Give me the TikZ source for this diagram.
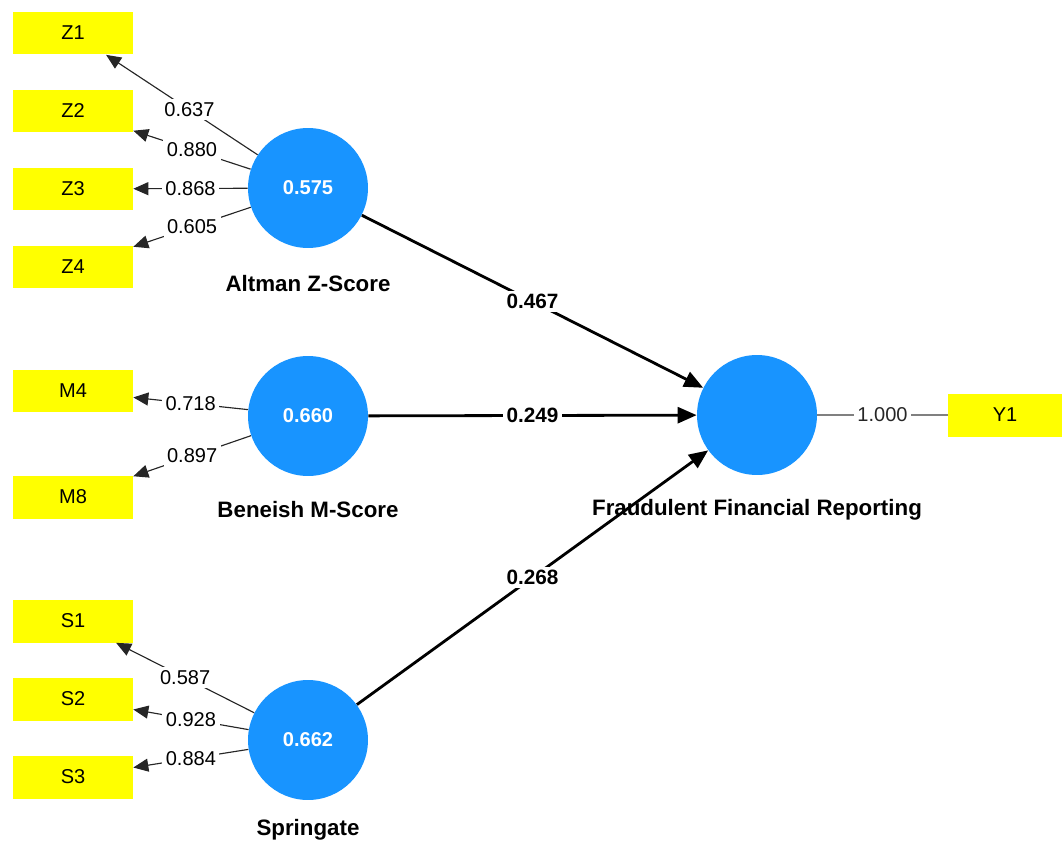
\documentclass[tikz,border=0pt]{standalone}
\usepackage{fontspec}
\setmainfont{Liberation Sans}
\usetikzlibrary{arrows.meta}

\definecolor{latentblue}{RGB}{24,148,255}
\definecolor{indyellow}{RGB}{255,255,0}

\begin{document}
\begin{tikzpicture}[
    x=0.02cm, y=-0.02cm,
    latent/.style={
        circle,
        fill=latentblue,
        minimum size=2.4cm,
        inner sep=0pt,
        text=white,
        font=\bfseries\fontsize{11.4}{13}\selectfont
    },
    indicator/.style={
        fill=indyellow,
        minimum width=2.4cm,
        minimum height=0.86cm,
        inner sep=0pt,
        font=\fontsize{11.4}{13}\selectfont
    },
    caption/.style={font=\bfseries\fontsize{12.7}{15}\selectfont},
    value/.style={fill=white, inner sep=2pt, font=\fontsize{11.4}{13}\selectfont},
    coef/.style={value, font=\bfseries\fontsize{11.8}{13}\selectfont},
    loading/.style={-{Triangle[length=0.3cm,width=0.26cm]}, draw=black!85, line width=0.65pt},
    pathline/.style={-{Triangle[length=0.38cm,width=0.32cm]}, line width=1.6pt}
]
\useasboundingbox (0,0) rectangle (1062,845);

\node[indicator] (z1) at (73,33) {Z1};
\node[indicator] (z2) at (73,111) {Z2};
\node[indicator] (z3) at (73,189) {Z3};
\node[indicator] (z4) at (73,267) {Z4};
\node[indicator] (m4) at (73,391) {M4};
\node[indicator] (m8) at (73,497) {M8};
\node[indicator] (s1) at (73,621) {S1};
\node[indicator] (s2) at (73,699) {S2};
\node[indicator] (s3) at (73,777) {S3};
\node[indicator, minimum width=2.28cm] (y1) at (1005,415) {Y1};

\node[latent] (altman) at (308,188) {0.575};
\node[latent] (beneish) at (308,416) {0.660};
\node[latent] (springate) at (308,740) {0.662};
\node[latent] (fraud) at (757,415) {};

\node[caption] (altmancap) at (308,284) {Altman Z-Score};
\node[caption] (beneishcap) at (308,510) {Beneish M-Score};
\node[caption] (springatecap) at (308,830) {Springate};
\node[caption] (fraudcap) at (757,510) {Fraudulent Financial Reporting};

\draw[loading] (altman) -- node[value, pos=0.45] {0.637} (z1);
\draw[loading] (altman) -- node[value] {0.880} (z2);
\draw[loading] (altman) -- node[value] {0.868} (z3);
\draw[loading] (altman) -- node[value] {0.605} (z4);

\draw[loading] (beneish) -- node[value] {0.718} (m4);
\draw[loading] (beneish) -- node[value] {0.897} (m8);

\draw[loading] (springate) -- node[value] {0.587} (s1);
\draw[loading] (springate) -- node[value] {0.928} (s2);
\draw[loading] (springate) -- node[value] {0.884} (s3);

\draw[pathline] (altman) -- node[coef] {0.467} (fraud);
\draw[pathline] (beneish) -- node[coef] {0.249} (fraud);
\draw[pathline] (springate) -- node[coef] {0.268} (fraud);

\draw[gray, line width=1.5pt] (fraud) -- node[value, text=black!85] {1.000} (y1);

\end{tikzpicture}
\end{document}
